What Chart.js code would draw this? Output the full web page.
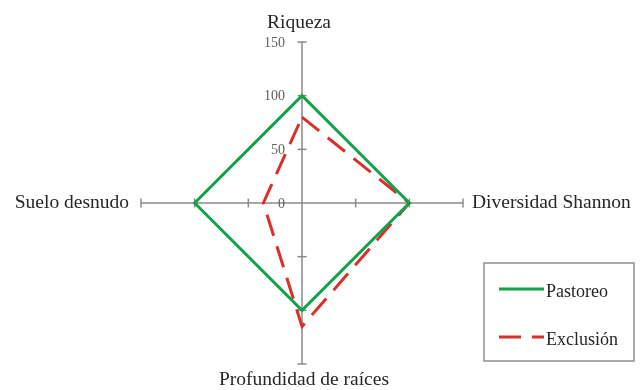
<!DOCTYPE html>
<html>
<head>
<meta charset="utf-8">
<script src="https://cdn.jsdelivr.net/npm/chart.js@4/dist/chart.umd.min.js"></script>
<style>
  html, body { margin: 0; padding: 0; background: #ffffff; }
  #wrap { width: 641px; height: 390px; }
</style>
</head>
<body>
<div id="wrap"><canvas id="c" width="641" height="390"></canvas></div>
<script>
const categories = ['Riqueza', 'Diversidad Shannon', 'Profundidad de raíces', 'Suelo desnudo'];
const pastoreo = [100, 100, 100, 100];
const exclusion = [80, 100, 115, 36];
const tickValues = [0, 50, 100, 150];
const seriesNames = ['Pastoreo', 'Exclusión'];

const SERIF = '"Liberation Serif", "DejaVu Serif", serif';
const AXIS_COLOR = '#8a8a8a';

const decorPlugin = {
  id: 'decor',
  beforeDatasetsDraw(chart) {
    const s = chart.scales.r;
    const ctx = chart.ctx;
    ctx.save();
    ctx.strokeStyle = AXIS_COLOR;
    ctx.lineWidth = 1.5;
    for (let i = 0; i < categories.length; i++) {
      const a = s.getIndexAngle(i) - Math.PI / 2;
      const px = -Math.sin(a), py = Math.cos(a);
      tickValues.forEach(v => {
        if (v === 0) return;
        const p = s.getPointPositionForValue(i, v);
        ctx.beginPath();
        ctx.moveTo(p.x - px * 4.5, p.y - py * 4.5);
        ctx.lineTo(p.x + px * 4.5, p.y + py * 4.5);
        ctx.stroke();
      });
    }
    ctx.restore();
  },
  afterDatasetsDraw(chart) {
    const s = chart.scales.r;
    const ctx = chart.ctx;
    ctx.save();
    // tick labels along the top axis
    ctx.font = '14px ' + SERIF;
    ctx.fillStyle = '#5f5f5f';
    ctx.textAlign = 'right';
    ctx.textBaseline = 'middle';
    tickValues.forEach(v => {
      const p = s.getPointPositionForValue(0, v);
      ctx.fillText(String(v), p.x - 17, p.y + 1);
    });
    // axis titles
    ctx.font = '19.5px ' + SERIF;
    ctx.fillStyle = '#262626';
    const maxV = tickValues[tickValues.length - 1];
    const offs = [
      {dx: -3, dy: -19, align: 'center'},
      {dx: 9, dy: 0, align: 'left'},
      {dx: 2, dy: 16, align: 'center'},
      {dx: -12, dy: 0, align: 'right'}
    ];
    categories.forEach((lab, i) => {
      const p = s.getPointPositionForValue(i, maxV);
      ctx.textAlign = offs[i].align;
      ctx.fillText(lab, p.x + offs[i].dx, p.y + offs[i].dy);
    });
    // legend box
    const bx = 484, by = 263, bw = 150, bh = 98;
    ctx.strokeStyle = '#7f7f7f';
    ctx.lineWidth = 1.3;
    ctx.strokeRect(bx, by, bw, bh);
    const rows = [289, 337];
    chart.data.datasets.forEach((ds, k) => {
      const y = rows[k];
      ctx.strokeStyle = ds.borderColor;
      ctx.lineWidth = 3;
      ctx.setLineDash(ds.borderDash || []);
      ctx.beginPath();
      ctx.moveTo(499, y);
      ctx.lineTo(544, y);
      ctx.stroke();
      ctx.setLineDash([]);
      ctx.font = '18px ' + SERIF;
      ctx.fillStyle = '#262626';
      ctx.textAlign = 'left';
      ctx.textBaseline = 'middle';
      ctx.fillText(ds.label, 546, y + 3);
    });
    ctx.restore();
  }
};

new Chart(document.getElementById('c'), {
  type: 'radar',
  data: {
    labels: categories,
    datasets: [
      {
        label: seriesNames[0],
        data: pastoreo,
        borderColor: '#13a24b',
        borderWidth: 3,
        fill: false,
        pointRadius: 0,
        pointHoverRadius: 0,
        tension: 0
      },
      {
        label: seriesNames[1],
        data: exclusion,
        borderColor: '#d9302a',
        borderWidth: 3,
        borderDash: [22, 11],
        fill: false,
        pointRadius: 0,
        pointHoverRadius: 0,
        tension: 0
      }
    ]
  },
  options: {
    responsive: false,
    animation: false,
    devicePixelRatio: 1,
    layout: { padding: { left: 0, right: 37, top: 42, bottom: 26 } },
    plugins: {
      legend: { display: false },
      tooltip: { enabled: false }
    },
    scales: {
      r: {
        min: tickValues[0],
        max: tickValues[tickValues.length - 1],
        ticks: { display: false, stepSize: 50 },
        grid: { display: false },
        angleLines: { display: true, color: AXIS_COLOR, lineWidth: 1.5 },
        pointLabels: { display: false }
      }
    }
  },
  plugins: [decorPlugin]
});
</script>
</body>
</html>
